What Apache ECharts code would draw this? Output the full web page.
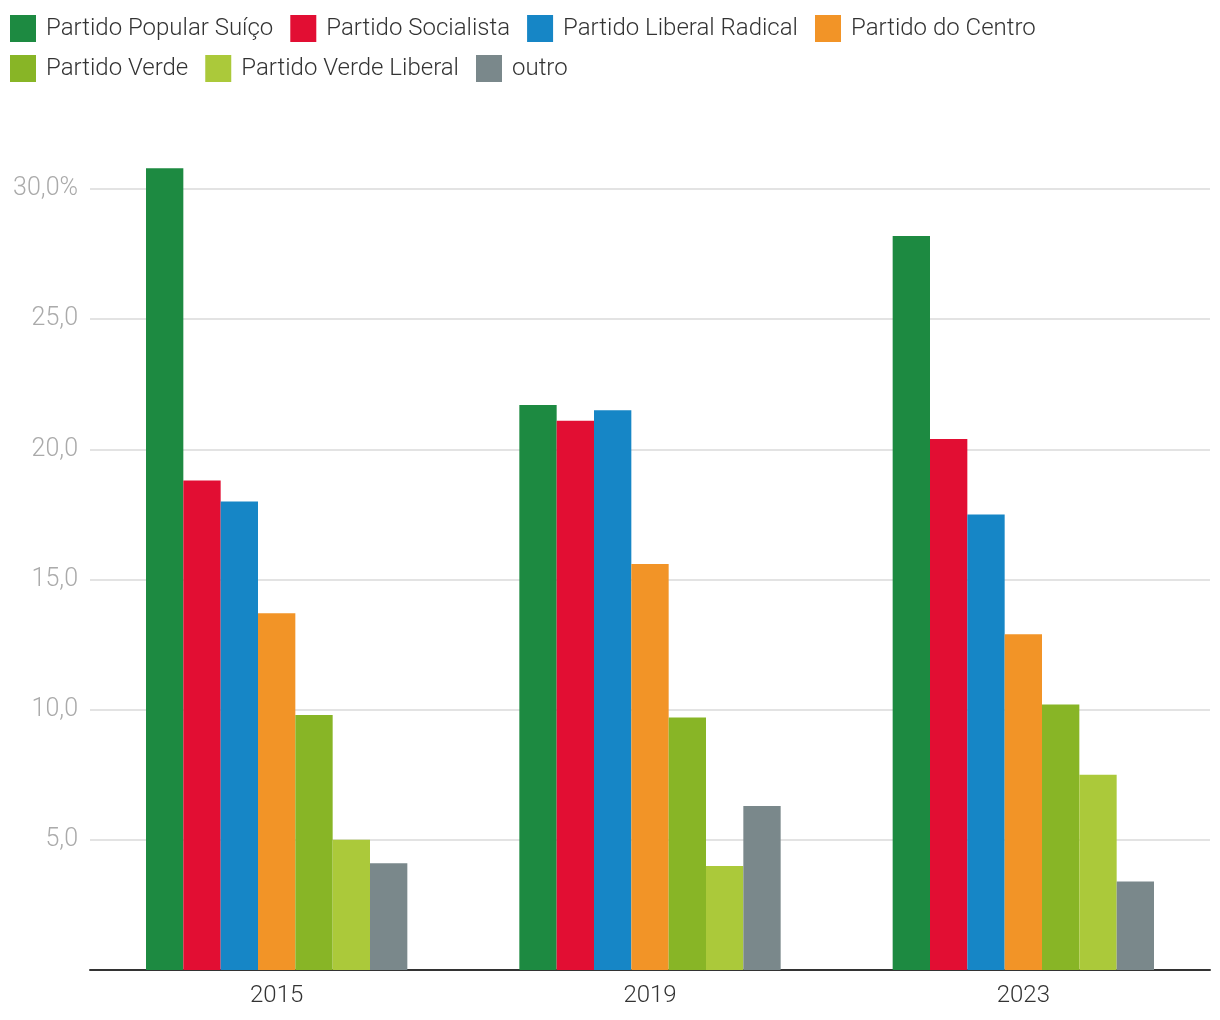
<!DOCTYPE html>
<html><head><meta charset="utf-8">
<script src="https://cdn.jsdelivr.net/npm/echarts@6/dist/echarts.min.js"></script>
<style>html,body{margin:0;padding:0;background:#fff}#c{width:1220px;height:1020px}</style>
</head><body><div id="c"></div>
<script>
const categories = ['2015', '2019', '2023'];
const seriesNames = ['Partido Popular Suíço', 'Partido Socialista', 'Partido Liberal Radical', 'Partido do Centro', 'Partido Verde', 'Partido Verde Liberal', 'outro'];
const svp = [30.8, 21.7, 28.2];
const sp = [18.8, 21.1, 20.4];
const fdp = [18.0, 21.5, 17.5];
const centro = [13.7, 15.6, 12.9];
const verde = [9.8, 9.7, 10.2];
const verdeLiberal = [5.0, 4.0, 7.5];
const outro = [4.1, 6.3, 3.4];
const seriesValues = [svp, sp, fdp, centro, verde, verdeLiberal, outro];
const colors = ['#1d8a41', '#e20e33', '#1686c6', '#f29427', '#88b526', '#abc93a', '#7a888b'];
const yTicks = [0, 5, 10, 15, 20, 25, 30];

const chart = echarts.init(document.getElementById('c'));
const FONT = 'Roboto';
const legendBase = {
  left: 10, padding: 0,
  itemWidth: 26, itemHeight: 27, itemGap: 17,
  icon: 'rect',
  textStyle: { fontSize: 24, color: '#333', fontWeight: 300, fontFamily: FONT, padding: [0, 0, 0, 5] }
};
chart.setOption({
  animation: false,
  color: colors,
  textStyle: { fontFamily: FONT },
  legend: [
    Object.assign({}, legendBase, { top: 15, data: seriesNames.slice(0, 4) }),
    Object.assign({}, legendBase, { top: 55, data: seriesNames.slice(4) })
  ],
  grid: { left: 90, right: 10, top: 137, bottom: 50, containLabel: false },
  xAxis: {
    type: 'category', data: categories,
    axisLine: { lineStyle: { color: '#333', width: 2 } },
    axisTick: { show: false },
    axisLabel: { fontSize: 24, color: '#333', fontWeight: 300, margin: 14 }
  },
  yAxis: {
    type: 'value', min: 0, max: 32, interval: 5,
    axisLine: { show: false }, axisTick: { show: false },
    splitLine: { showMaxLine: false, lineStyle: { color: '#e3e3e3', width: 2 } },
    axisLabel: {
      fontSize: 25, color: '#aaa', fontWeight: 300, margin: 12, showMaxLabel: false,
      formatter: v => {
        if (!yTicks.includes(v) || v === 0) return '';
        const s = v.toFixed(1).replace('.', ',');
        return v === 30 ? s + '%' : s;
      }
    }
  },
  series: seriesNames.map((n, i) => ({
    name: n, type: 'bar', data: seriesValues[i],
    barGap: 0, barCategoryGap: '30%'
  }))
});
</script></body></html>
